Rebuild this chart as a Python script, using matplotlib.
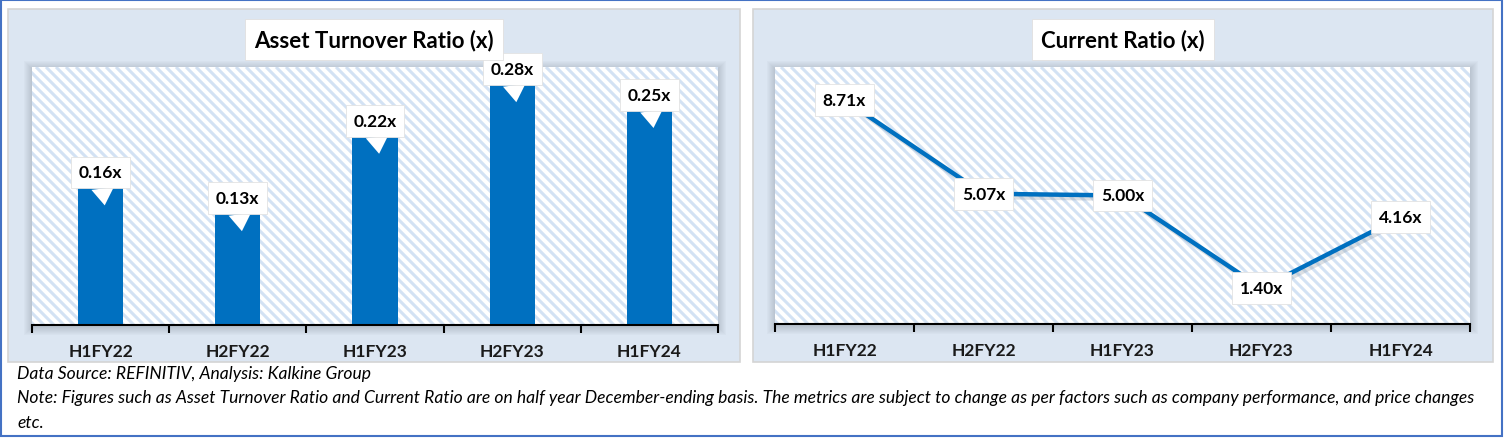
import numpy as np
import matplotlib
matplotlib.use("Agg")
import matplotlib.pyplot as plt
from matplotlib.patches import Rectangle
from matplotlib.collections import LineCollection
from matplotlib.transforms import offset_copy

# chart data
periods = ["H1FY22", "H2FY22", "H1FY23", "H2FY23", "H1FY24"]
asset_turnover = [0.16, 0.13, 0.22, 0.28, 0.25]
current_ratio = [8.71, 5.07, 5.00, 1.40, 4.16]

source_text = "Data Source: REFINITIV, Analysis: Kalkine Group"
note_text = ("Note: Figures such as Asset Turnover Ratio and Current Ratio are on half year "
             "December-ending basis. The metrics are subject to change as per factors such as "
             "company performance, and price changes")
note_text2 = "etc."

# styling
W, H = 1504, 439
DPI = 100
BLUE = "#0070C0"
PANEL = "#DCE6F2"
STRIPE = "#D3E2F4"
FONT = "Lato"

plt.rcParams['font.family'] = [FONT, 'DejaVu Sans']

fig = plt.figure(figsize=(W / DPI, H / DPI), dpi=DPI)
fig.patch.set_facecolor("white")


def px_rect(x0, y0, x1, y1):
    # pixel box (top-left origin) -> figure fraction
    return [x0 / W, 1 - y1 / H, (x1 - x0) / W, (y1 - y0) / H]


def add_fig_rect(x0, y0, x1, y1, z=-5, **kw):
    l, b, w, h = px_rect(x0, y0, x1, y1)
    r = Rectangle((l, b), w, h, transform=fig.transFigure, zorder=z, **kw)
    fig.patches.append(r)
    return r


# outer blue frame
add_fig_rect(1, 1, W - 2, H - 2, z=10, fc="none", ec="#4472C4", lw=1.5)

# panels
for (x0, x1) in [(8, 740), (753, 1493)]:
    add_fig_rect(x0, 10, x1, 363, z=-6, fc=PANEL, ec="#D4D4D4", lw=1.2)

plot_boxes = [(32, 68, 718, 326), (775, 68, 1470, 325)]

# soft shadows behind the plot areas
for (x0, y0, x1, y1) in plot_boxes:
    for k in range(1, 9):
        add_fig_rect(x0 - k, y0 - k + 2, x1 + k, y1 + k + 2,
                     fc="#5A6470", ec="none", alpha=0.03)

axes = []
for box in plot_boxes:
    ax = fig.add_axes(px_rect(*box))
    ax.set_facecolor("white")
    axes.append(ax)


def stripes(ax):
    # diagonal light-blue stripes, drawn in pixel space
    fig.canvas.draw()
    bb = ax.get_window_extent()
    step = 10
    segs = []
    span = bb.width + bb.height
    for c in np.arange(bb.x0 + bb.y0 - bb.height, bb.x0 + bb.y0 + span + step, step):
        segs.append([(c - bb.y1, bb.y1), (c - bb.y0, bb.y0)])
    lc = LineCollection(segs, colors=STRIPE, linewidths=2.2, transform=None, zorder=0.5)
    lc.set_clip_box(bb)
    ax.add_collection(lc, autolim=False)


def style_axis(ax, n):
    ax.set_xlim(-0.5, n - 0.5)
    for s in ["top", "right", "left"]:
        ax.spines[s].set_visible(False)
    ax.spines["bottom"].set_linewidth(1.5)
    ax.spines["bottom"].set_color("black")
    ax.spines["bottom"].set_zorder(5)
    ax.set_yticks([])
    ax.set_xticks(np.arange(n + 1) - 0.5)
    ax.set_xticklabels([])
    ax.tick_params(axis="x", which="major", length=6, width=1.5, color="black", direction="out")
    ax.set_xticks(np.arange(n), minor=True)
    ax.set_xticklabels(periods, minor=True, fontsize=12.5, fontweight="bold", color="#1A1A1A")
    ax.tick_params(axis="x", which="minor", length=0, pad=13)


lbl_bbox = dict(boxstyle="square,pad=0.45", fc="white", ec="#E3E3E3", lw=0.6)

# left: asset turnover bars
ax1 = axes[0]
x = np.arange(len(periods))
ax1.bar(x, asset_turnover, width=0.33, color=BLUE, zorder=2)
ax1.set_ylim(0, 0.30)
style_axis(ax1, len(periods))
for i, v in enumerate(asset_turnover):
    ax1.annotate(f"{v:.2f}x",
                 xy=(i + 0.03, v), xycoords=offset_copy(ax1.transData, fig, y=-18, units="dots"),
                 xytext=(i, v), textcoords=offset_copy(ax1.transData, fig, y=15, units="dots"),
                 ha="center", va="center", fontsize=12.5, fontweight="bold", color="black",
                 bbox=lbl_bbox, zorder=6, annotation_clip=False,
                 arrowprops=dict(arrowstyle="wedge,tail_width=1.3", fc="white", ec="none",
                                 shrinkA=0, shrinkB=0))

# right: current ratio line
ax2 = axes[1]
ax2.plot(x + 0.02, np.array(current_ratio) - 0.12, color="#8A96A3", lw=3.5, alpha=0.3,
         solid_capstyle="butt", zorder=2)
ax2.plot(x, current_ratio, color=BLUE, lw=3.2, solid_capstyle="butt", zorder=3)
ax2.set_ylim(0, 10)
style_axis(ax2, len(periods))
for i, v in enumerate(current_ratio):
    ax2.text(i, v, f"{v:.2f}x", ha="center", va="center", fontsize=12.5,
             fontweight="bold", color="black", bbox=lbl_bbox, zorder=6)

for ax in axes:
    stripes(ax)

# panel titles
title_bbox = dict(boxstyle="square,pad=0.42", fc="white", ec="#E0E0E0", lw=0.6)
fig.text(374 / W, 1 - 40.5 / H, "Asset Turnover Ratio (x)", ha="center", va="center",
         fontsize=16, fontweight="bold", color="black", bbox=title_bbox)
fig.text(1123 / W, 1 - 40.5 / H, "Current Ratio (x)", ha="center", va="center",
         fontsize=16, fontweight="bold", color="black", bbox=title_bbox)

# footer
for txt, yy in [(source_text, 374), (note_text, 398), (note_text2, 423)]:
    fig.text(17 / W, 1 - yy / H, txt, ha="left", va="center", fontsize=12.6,
             style="italic", color="black")

fig.savefig("out.png", dpi=DPI, facecolor="white")
